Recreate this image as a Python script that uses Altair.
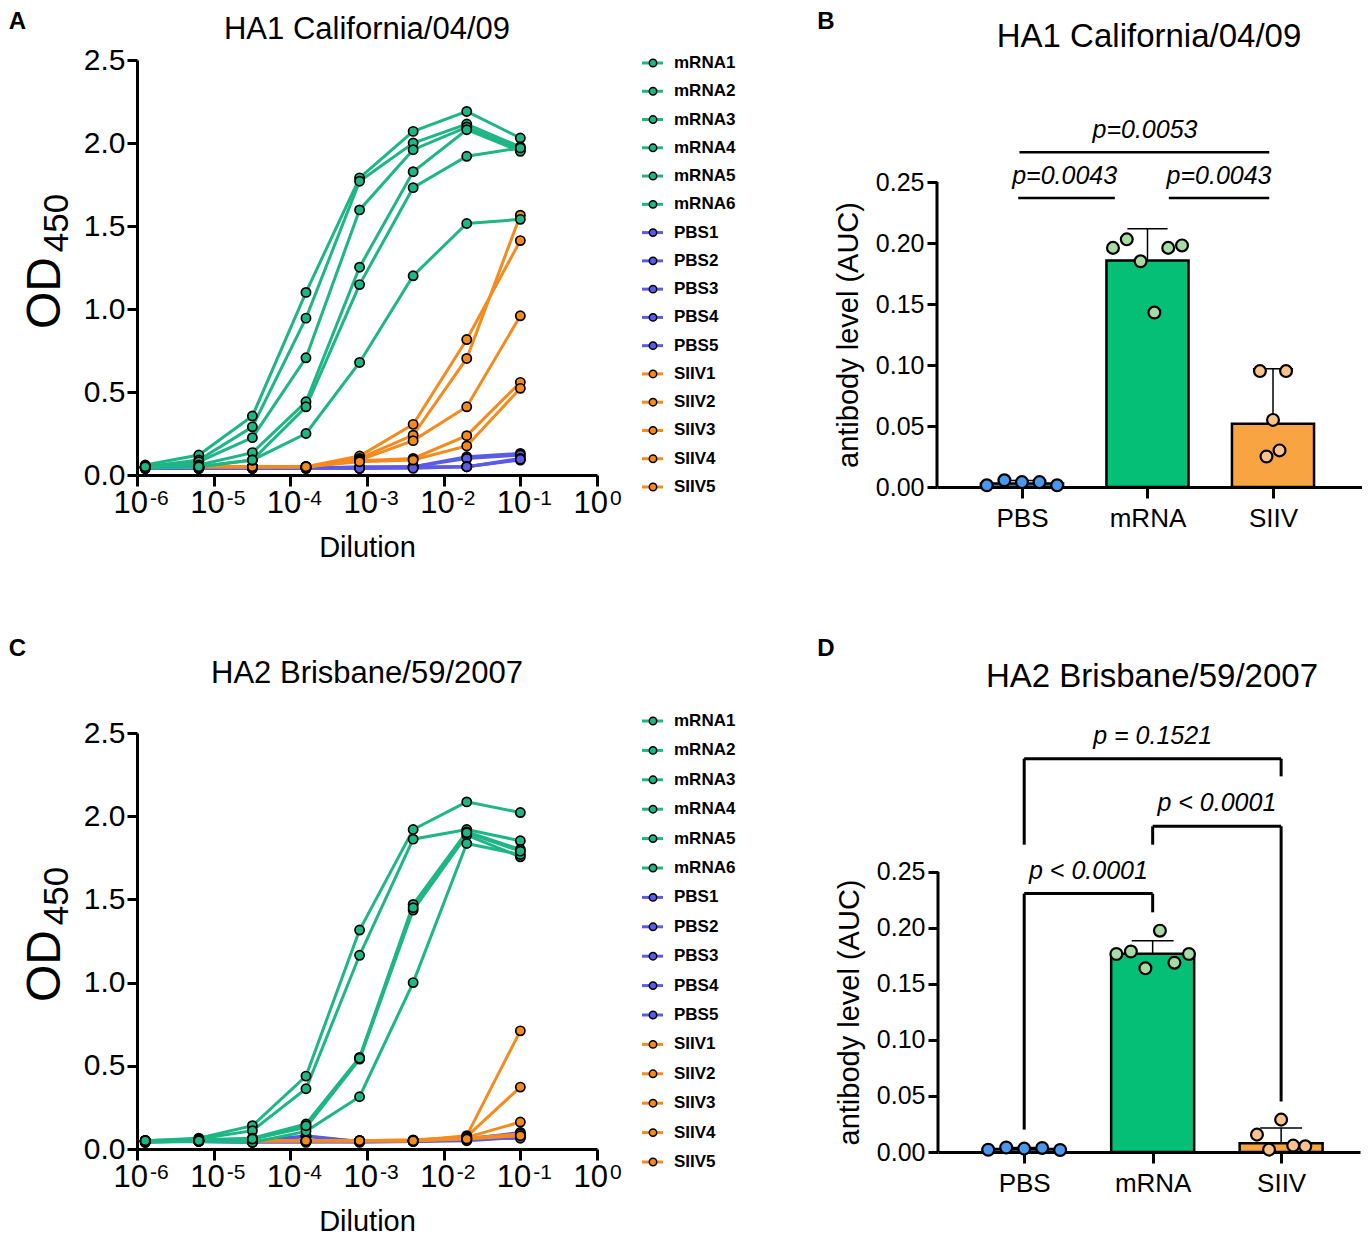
import altair as alt
import pandas as pd

FONT = "Liberation Sans"

# ---------------- data ----------------
DILUTIONS = [1/781250, 1/156250, 1/31250, 1/6250, 1/1250, 1/250, 1/50, 1/10]
EXPONENTS = [-6, -5, -4, -3, -2, -1, 0]
OD_TICKS = [0, 0.5, 1.0, 1.5, 2.0, 2.5]
AUC_TICKS = [0, 0.05, 0.10, 0.15, 0.20, 0.25]

HA1_MRNA = [
    [0.06, 0.12, 0.355, 1.10, 1.79, 2.07, 2.19, 2.03],
    [0.05, 0.09, 0.29, 0.945, 1.77, 2.00, 2.114, 1.976],
    [0.05, 0.08, 0.225, 0.706, 1.597, 1.96, 2.096, 1.96],
    [0.05, 0.06, 0.135, 0.441, 1.252, 1.827, 2.08, 1.95],
    [0.04, 0.05, 0.09, 0.411, 1.147, 1.731, 1.92, 1.97],
    [0.05, 0.05, 0.09, 0.25, 0.678, 1.20, 1.515, 1.54],
]
HA1_PBS = [
    [0.045, 0.04, 0.04, 0.04, 0.04, 0.05, 0.11, 0.13],
    [0.04, 0.04, 0.045, 0.04, 0.045, 0.05, 0.10, 0.12],
    [0.04, 0.045, 0.04, 0.045, 0.04, 0.045, 0.05, 0.10],
    [0.045, 0.04, 0.04, 0.04, 0.05, 0.05, 0.05, 0.09],
    [0.04, 0.04, 0.045, 0.045, 0.04, 0.04, 0.05, 0.095],
]
HA1_SIIV = [
    [0.05, 0.05, 0.05, 0.05, 0.114, 0.305, 0.816, 1.412],
    [0.05, 0.05, 0.05, 0.05, 0.10, 0.24, 0.702, 1.565],
    [0.05, 0.05, 0.05, 0.05, 0.09, 0.207, 0.411, 0.959],
    [0.05, 0.05, 0.05, 0.05, 0.086, 0.10, 0.237, 0.558],
    [0.05, 0.05, 0.05, 0.05, 0.08, 0.09, 0.175, 0.522],
]

HA2_MRNA = [
    [0.05, 0.065, 0.14, 0.438, 1.316, 1.92, 2.086, 2.022],
    [0.05, 0.06, 0.11, 0.362, 1.164, 1.862, 1.92, 1.852],
    [0.045, 0.055, 0.065, 0.15, 0.55, 1.47, 1.906, 1.80],
    [0.045, 0.05, 0.06, 0.13, 0.54, 1.436, 1.886, 1.756],
    [0.04, 0.045, 0.04, 0.106, 0.314, 1.0, 1.836, 1.77],
    [0.05, 0.05, 0.06, 0.14, 0.545, 1.45, 1.90, 1.79],
]
HA2_PBS = [
    [0.045, 0.05, 0.045, 0.08, 0.045, 0.045, 0.06, 0.10],
    [0.045, 0.045, 0.04, 0.075, 0.045, 0.05, 0.065, 0.09],
    [0.05, 0.05, 0.045, 0.045, 0.04, 0.045, 0.055, 0.085],
    [0.045, 0.045, 0.04, 0.04, 0.045, 0.045, 0.05, 0.07],
    [0.04, 0.05, 0.045, 0.045, 0.045, 0.05, 0.06, 0.065],
]
HA2_SIIV = [
    [0.05, 0.05, 0.05, 0.05, 0.05, 0.05, 0.08, 0.71],
    [0.05, 0.05, 0.05, 0.05, 0.05, 0.05, 0.075, 0.372],
    [0.05, 0.05, 0.05, 0.05, 0.05, 0.055, 0.07, 0.162],
    [0.05, 0.05, 0.05, 0.05, 0.05, 0.05, 0.065, 0.09],
    [0.05, 0.05, 0.05, 0.05, 0.05, 0.05, 0.06, 0.08],
]

AUC_GROUPS = ["PBS", "mRNA", "SIIV"]
HA1_AUC_PBS = [0.0014, 0.0055, 0.004, 0.004, 0.0014]
HA1_AUC_MRNA = [0.196, 0.203, 0.185, 0.143, 0.196, 0.198]
HA1_AUC_SIIV = [0.095, 0.025, 0.055, 0.030, 0.095]
HA2_AUC_PBS = [0.002, 0.004, 0.003, 0.0036, 0.0018]
HA2_AUC_MRNA = [0.1768, 0.179, 0.164, 0.1976, 0.169, 0.1768]
HA2_AUC_SIIV = [0.0155, 0.0021, 0.0289, 0.0057, 0.0051]

# comparisons: (group a, group b, bracket height, label)
HA1_TESTS = [(0, 1, 0.2369, "p=0.0043"), (1, 2, 0.2369, "p=0.0043"), (0, 2, 0.2743, "p=0.0053")]
HA2_TESTS = [(0, 1, 0.2307, "p < 0.0001"), (1, 2, 0.2908, "p < 0.0001"), (0, 2, 0.3512, "p = 0.1521")]
HA2_LEG_ENDS = [(0.020, 0.214), (0.2744, 0.045), (0.2744, 0.3354)]

TITLE_HA1 = "HA1 California/04/09"
TITLE_HA2 = "HA2 Brisbane/59/2007"

# ---------------- styles ----------------
LINE_COLORS = {"mRNA": "#1DB684", "PBS": "#5B5BE6", "SIIV": "#F58A1F"}
BAR_FILL = {"PBS": "#4A97EE", "mRNA": "#06BF77", "SIIV": "#F9A443"}
PT_FILL = {"PBS": "#4A97EE", "mRNA": "#A7DAA6", "SIIV": "#F9C38B"}

B_LINE_TRIM = [(-0.03, -0.26), (0.17, -0.03), (-0.02, -0.03)]
B_TEXT_X = [0.34, 1.57, 0.98]


def od_frame(mrna, pbs, siiv):
    rows = []
    for grp, series in (("PBS", pbs), ("SIIV", siiv), ("mRNA", mrna)):
        for k, vals in enumerate(series, start=1):
            for d, v in zip(DILUTIONS, vals):
                rows.append({"series": f"{grp}{k}", "group": grp, "dilution": d, "od": v,
                             "lc": LINE_COLORS[grp]})
    return pd.DataFrame(rows)


def legend_frame(mrna, pbs, siiv):
    rows = []
    for grp, series in (("mRNA", mrna), ("PBS", pbs), ("SIIV", siiv)):
        for k in range(1, len(series) + 1):
            rows.append({"series": f"{grp}{k}", "group": grp, "lc": LINE_COLORS[grp]})
    return pd.DataFrame(rows)


def txt(text, x, y, **kw):
    return alt.Chart(pd.DataFrame({"t": [text]})).mark_text(**kw).encode(
        x=alt.value(x), y=alt.value(y), text="t:N")


def curve_panel(letter, title, mrna, pbs, siiv, plot_h, leg_range, letter_y, title_y):
    W = 460
    df = od_frame(mrna, pbs, siiv)
    xs = alt.Scale(type="log", domain=[1e-6, 1], nice=False)
    ys = alt.Scale(domain=[0, 2.5], nice=False, zero=False)
    xaxis = alt.Axis(values=[10.0 ** e for e in EXPONENTS], labels=False, title="Dilution",
                     titleFontSize=29, titlePadding=46, tickSize=11, titleFontWeight="normal")
    yaxis = alt.Axis(values=OD_TICKS, format=".1f", labelFontSize=30,
                     tickSize=10, labelPadding=2, title=None)
    color = alt.Color("lc:N", scale=None)
    fill = alt.Fill("lc:N", scale=None)
    X = alt.X("dilution:Q", scale=xs, axis=xaxis)
    Y = alt.Y("od:Q", scale=ys, axis=yaxis)

    base = alt.Chart(df)
    lines = base.mark_line(strokeWidth=3).encode(x=X, y=Y, color=color, detail="series:N")
    points = base.mark_circle(size=85, stroke="black", strokeWidth=1.7, opacity=1).encode(
        x=X, y=Y, fill=fill)

    tick_base = alt.Chart(pd.DataFrame({"e": EXPONENTS})).transform_calculate(
        v="pow(10, datum.e)", sup="'' + datum.e")
    TX = alt.X("v:Q", scale=xs, axis=xaxis)
    ten = tick_base.mark_text(text="10", align="right", baseline="middle", fontSize=31, dx=11).encode(
        x=TX, y=alt.value(plot_h + 29))
    sup = tick_base.mark_text(align="left", baseline="middle", fontSize=21, dx=13).encode(
        x=TX, y=alt.value(plot_h + 24), text="sup:N")

    ttl = txt(title, 230, title_y, fontSize=31, align="center", baseline="middle")
    let = txt(letter, -119.5, letter_y, fontSize=24, fontWeight="bold", align="center", baseline="middle")
    od = txt("OD", -91, 233, fontSize=48, angle=270, align="center", baseline="middle")
    sub = txt("450", -80, 163, fontSize=35, angle=270, align="center", baseline="middle")

    main = alt.layer(lines, points, ten, sup, ttl, let, od, sub)

    ldf = legend_frame(mrna, pbs, siiv)
    LY = alt.Y("series:N", scale=alt.Scale(type="point", domain=list(ldf["series"]),
                                            range=list(leg_range), padding=0), axis=None)
    lbase = alt.Chart(ldf)
    lrule = lbase.mark_rule(strokeWidth=3).encode(
        x=alt.value(505), x2=alt.value(526), y=LY, color=color)
    lpt = lbase.mark_circle(size=55, stroke="black", strokeWidth=1.5, opacity=1).encode(
        x=alt.value(516), y=LY, fill=fill)
    ltxt = lbase.mark_text(align="left", baseline="middle", fontSize=17, fontWeight="bold").encode(
        x=alt.value(537), y=LY, text="series:N")
    leg = alt.layer(lrule, lpt, ltxt)

    return alt.layer(main, leg).resolve_scale(y="independent").properties(width=W, height=plot_h)


def auc_panel(letter, title, pbs, mrna, siiv, plot_h, ymax, width, xdom, spacing, bar_half, cap_half,
              letter_xy, title_xy, bracket_style):
    rows = []
    for idx, (g, vals) in enumerate(zip(AUC_GROUPS, (pbs, mrna, siiv))):
        n = len(vals)
        for i, v in enumerate(vals):
            rows.append({"group": g, "idx": idx, "value": v,
                         "xpos": idx + (i - (n - 1) / 2) * spacing[g],
                         "bc": BAR_FILL[g], "pc": PT_FILL[g]})
    df = pd.DataFrame(rows)

    xs = alt.Scale(domain=list(xdom), nice=False, zero=False)
    ys = alt.Scale(domain=[0, ymax], nice=False)
    # vertical centre of the 0 .. top-tick span, for the axis title
    title_center = plot_h * (1 - AUC_TICKS[-1] / ymax / 2)
    label_expr = "[" + ",".join(f"'{g}'" for g in AUC_GROUPS) + "][datum.value]"
    xaxis = alt.Axis(values=[0, 1, 2], labelExpr=label_expr, labelFontSize=26, tickSize=11,
                     labelPadding=7, title=None)
    yaxis = alt.Axis(values=AUC_TICKS, format=".2f", labelFontSize=25, domain=False,
                     tickSize=10, labelPadding=3, title="antibody level (AUC)", titleFontSize=29,
                     titleFontWeight="normal", titlePadding=12, titleY=title_center)
    X = lambda f: alt.X(f, scale=xs, axis=xaxis)
    Y = lambda f: alt.Y(f, scale=ys, axis=yaxis)

    # y axis line only up to the top tick
    yline = alt.Chart(pd.DataFrame({"y0": [AUC_TICKS[0]], "y1": [AUC_TICKS[-1]]})).mark_rule(
        strokeWidth=3, color="black").encode(x=alt.value(0), y=Y("y0:Q"), y2="y1:Q")

    stats = alt.Chart(df).transform_calculate(lv="log(datum.value)").transform_aggregate(
        m="mean(lv)", s="stdev(lv)", groupby=["group", "idx", "bc"]).transform_calculate(
        gm="exp(datum.m)", up="exp(datum.m + datum.s)", z="0",
        xl=f"datum.idx - {bar_half}", xr=f"datum.idx + {bar_half}",
        cl=f"datum.idx - {cap_half}", cr=f"datum.idx + {cap_half}")

    bars = stats.mark_bar(stroke="black", strokeWidth=2.5).encode(
        x=X("xl:Q"), x2="xr:Q", y=Y("gm:Q"), y2="z:Q", fill=alt.Fill("bc:N", scale=None))
    err = stats.mark_rule(strokeWidth=1.5, color="black").encode(
        x=X("idx:Q"), y=Y("gm:Q"), y2="up:Q")
    cap = stats.mark_rule(strokeWidth=1.5, color="black").encode(
        x=X("cl:Q"), x2="cr:Q", y=Y("up:Q"))

    pts = alt.Chart(df).mark_circle(size=140, stroke="black", strokeWidth=2.2, opacity=1).encode(
        x=X("xpos:Q"), y=Y("value:Q"), fill=alt.Fill("pc:N", scale=None))

    seg_rows, lab_rows = [], []
    if bracket_style == "lines":
        for (a, b, h, lab), (ta, tb), tx in zip(HA1_TESTS, B_LINE_TRIM, B_TEXT_X):
            seg_rows.append({"x1": a + ta, "x2": b + tb, "y1": h, "y2": h})
            lab_rows.append({"x": tx, "y": h, "label": lab})
        sw, dy, fs = 2.5, -22, 25
    else:
        for (a, b, h, lab), (la, lb) in zip(HA2_TESTS, HA2_LEG_ENDS):
            seg_rows.append({"x1": a, "x2": b, "y1": h, "y2": h})
            seg_rows.append({"x1": a, "x2": a, "y1": la, "y2": h})
            seg_rows.append({"x1": b, "x2": b, "y1": lb, "y2": h})
            lab_rows.append({"x": (a + b) / 2, "y": h, "label": lab})
        sw, dy, fs = 3, -23, 25
    segs = alt.Chart(pd.DataFrame(seg_rows)).mark_rule(strokeWidth=sw, color="black").encode(
        x=X("x1:Q"), x2="x2:Q", y=Y("y1:Q"), y2="y2:Q")
    labs = alt.Chart(pd.DataFrame(lab_rows)).mark_text(
        fontSize=fs, fontStyle="italic", align="center", baseline="middle", dy=dy).encode(
        x=X("x:Q"), y=Y("y:Q"), text="label:N")

    ttl = txt(title, title_xy[0], title_xy[1], fontSize=33, align="center", baseline="middle")
    let = txt(letter, letter_xy[0], letter_xy[1], fontSize=24, fontWeight="bold",
              align="center", baseline="middle")

    return alt.layer(yline, bars, err, cap, pts, segs, labs, ttl, let).properties(
        width=width, height=plot_h)


panel_a = curve_panel("A", TITLE_HA1, HA1_MRNA, HA1_PBS, HA1_SIIV, 415, (3, 427), -38, -30)
panel_c = curve_panel("C", TITLE_HA2, HA2_MRNA, HA2_PBS, HA2_SIIV, 416, (-12, 429), -84, -59)

panel_b = auc_panel("B", TITLE_HA1, HA1_AUC_PBS, HA1_AUC_MRNA, HA1_AUC_SIIV, 427, 0.35, 425,
                    (-0.677, 2.709), {"PBS": 0.14, "mRNA": 0.11, "SIIV": 0.052}, 0.327, 0.16,
                    (-111, -38), (212, -23), "lines")
panel_d = auc_panel("D", TITLE_HA2, HA2_AUC_PBS, HA2_AUC_MRNA, HA2_AUC_SIIV, 419, 0.3741, 422,
                    (-0.671, 2.614), {"PBS": 0.14, "mRNA": 0.113, "SIIV": 0.094}, 0.323, 0.163,
                    (-112, -84), (214, -56), "brackets")

row1 = alt.hconcat(panel_a, panel_b, spacing=81)
row2 = alt.hconcat(panel_c, panel_d, spacing=81)

chart = alt.vconcat(row1, row2, spacing=74).properties(
    padding={"top": 2, "left": 0, "right": 0, "bottom": 0}
).configure(
    font=FONT
).configure_view(stroke=None).configure_axis(
    grid=False, domainColor="black", domainWidth=3, tickColor="black", tickWidth=3,
    labelColor="black", titleColor="black", labelFont=FONT, titleFont=FONT
)

chart.save("out.html", embed_options={"renderer": "svg", "actions": False})
